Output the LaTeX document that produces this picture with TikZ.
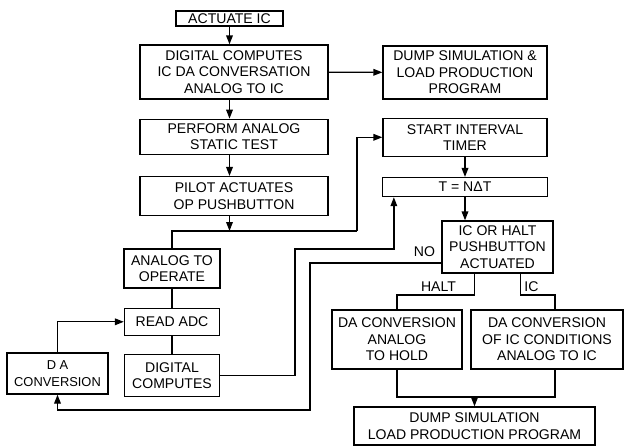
\documentclass[tikz,border=0pt]{standalone}
\usepackage{fontspec}
\setmainfont{Liberation Sans}
\usetikzlibrary{arrows.meta, positioning}
\tikzset{
  lettering/.style={font=\fontsize{12}{14}\selectfont},
  blk/.style={draw, line width=1.1pt, align=center, inner sep=0pt, lettering},
  lbl/.style={inner sep=0pt, lettering},
  wire/.style={line width=1.1pt},
  parr/.style={wire, -{Triangle[length=0.27cm, width=0.2cm]}},
}

\begin{document}
\begin{tikzpicture}[x=0.03cm, y=-0.03cm]
  \useasboundingbox (0,0) rectangle (624,446);

  \node[blk, minimum width=3.21cm, minimum height=0.45cm] (act) at (229.5,18.5) {ACTUATE IC};
  \node[blk, minimum width=5.64cm, minimum height=1.62cm] (dig) at (234,72)
       {DIGITAL COMPUTES\\IC DA CONVERSATION\\ANALOG TO IC};
  \node[blk, minimum width=4.92cm, minimum height=1.59cm] (dump1) at (465,72.5)
       {DUMP SIMULATION \&\\LOAD PRODUCTION\\PROGRAM};
  \node[blk, below=0.57cm of dig, minimum width=5.64cm, minimum height=1.05cm] (perf)
       {PERFORM ANALOG\\STATIC TEST};
  \node[blk, below=0.63cm of perf, minimum width=5.64cm, minimum height=1.17cm] (pilot)
       {PILOT ACTUATES\\OP PUSHBUTTON};
  \node[blk, below=0.54cm of dump1, minimum width=4.92cm, minimum height=1.14cm] (start)
       {START INTERVAL\\TIMER};
  \node[blk, below=0.6cm of start, minimum width=4.95cm, minimum height=0.57cm] (tn) {T = NΔT};
  \node[blk, minimum width=3.33cm, minimum height=1.56cm] (decide) at (497.5,247)
       {IC OR HALT\\PUSHBUTTON\\ACTUATED};
  \node[blk, minimum width=2.88cm, minimum height=1.17cm] (anop) at (172,268.5)
       {ANALOG TO\\OPERATE};
  \node[blk, below=0.57cm of anop, minimum width=2.85cm, minimum height=0.81cm] (readadc) {READ ADC};
  \node[blk, below=0.54cm of readadc, minimum width=2.85cm, minimum height=1.26cm] (digc)
       {DIGITAL\\COMPUTES};
  \node[blk, minimum width=3.03cm, minimum height=1.23cm, font=\fontsize{11}{14}\selectfont] (dacv)
       at (57.5,373.5) {D A\\CONVERSION};
  \node[blk, minimum width=3.9cm, minimum height=1.77cm] (dahold) at (397,339.5)
       {DA CONVERSION\\ANALOG\\TO HOLD};
  \node[blk, minimum width=4.56cm, minimum height=1.77cm] (daic) at (547,339.5)
       {DA CONVERSION\\OF IC CONDITIONS\\ANALOG TO IC};
  \node[blk, minimum width=7.23cm, minimum height=1.14cm] (dump2) at (474.5,426)
       {DUMP SIMULATION\\LOAD PRODUCTION PROGRAM};

  \coordinate (split) at (229.5,231);
  \coordinate (bendA) at (357,231);
  \coordinate (bendB) at (295,249);
  \coordinate (bendC) at (310,410);
  \coordinate (bendH) at (397,295);
  \coordinate (bendI) at (555,295);
  \coordinate (merge) at (474.5,397);

  \draw[parr] (act) -- (act |- dig.north);
  \draw[parr] (dig) -- (dump1);
  \draw[parr] (act |- dig.south) -- (act |- perf.north);
  \draw[parr] (act |- perf.south) -- (act |- pilot.north);
  \draw[parr] (act |- pilot.south) -- (split);
  \draw[wire] (anop) |- (bendA);
  \draw[parr] (bendA) |- (start.west);
  \draw[wire] (anop) -- (readadc);
  \draw[wire] (readadc) -- (digc);
  \draw[parr] (dacv) |- (readadc);
  \draw[parr] (digc) -| (bendB) -| ([xshift=0.36cm]tn.south west);
  \draw[parr] (start) -- (tn);
  \draw[parr] (tn) -- (tn |- decide.north);
  \draw[parr] ([yshift=-0.48cm]decide.west) -| (bendC) -| (dacv);
  \draw[wire] ([xshift=-0.7cm]decide.south) |- (bendH) -- (dahold);
  \draw[wire] ([xshift=0.7cm]decide.south) |- (bendI) -- (bendI |- daic.north);
  \draw[wire] (dahold) |- (merge) -| (bendI |- daic.south);
  \draw[parr] (merge) -- (dump2);

  \node[lbl] (no) at (424.5,252) {NO};
  \node[lbl] (halt) at (438.5,286.5) {HALT};
  \node[lbl] (ic) at (531.5,286.5) {IC};
\end{tikzpicture}
\end{document}
